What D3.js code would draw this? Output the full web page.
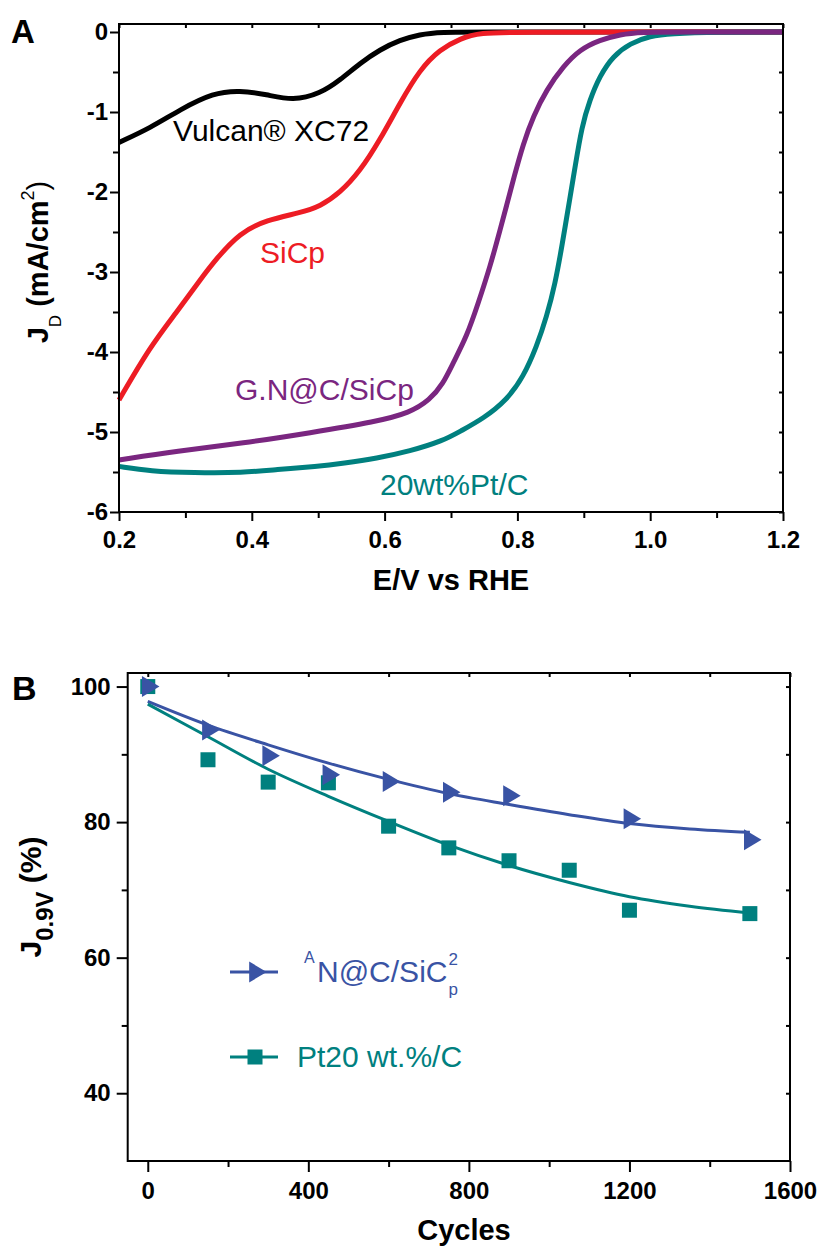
<!DOCTYPE html>
<html><head><meta charset="utf-8">
<script src="https://cdn.jsdelivr.net/npm/d3@7"></script>
<style>
body{margin:0;background:#fff;}
svg{display:block;font-family:"Liberation Sans",Arial,Helvetica,sans-serif;}
</style></head><body>
<svg id="c" width="820" height="1246"></svg>
<script>
// ---------- Panel A data (E / V vs RHE, J_D / mA cm^-2) ----------
const vulcanE = [0.2, 0.247, 0.292, 0.342, 0.382, 0.422, 0.462, 0.503, 0.533, 0.563, 0.593, 0.623, 0.653, 0.683, 0.75, 0.9, 1.2];
const vulcanJ = [-1.38, -1.2, -0.97, -0.76, -0.73, -0.78, -0.86, -0.77, -0.60, -0.39, -0.22, -0.10, -0.03, 0, 0, 0, 0];

const sicpE = [0.2, 0.247, 0.287, 0.322, 0.347, 0.382, 0.422, 0.473, 0.503, 0.533, 0.563, 0.593, 0.623, 0.653, 0.683, 0.714, 0.744, 0.8, 1.0, 1.2];
const sicpJ = [-4.6, -3.93, -3.5, -3.1, -2.83, -2.51, -2.35, -2.26, -2.18, -2.01, -1.74, -1.35, -0.89, -0.47, -0.22, -0.08, -0.01, 0, 0, 0];

const gncE = [0.2, 0.287, 0.387, 0.488, 0.588, 0.638, 0.668, 0.688, 0.703, 0.724, 0.741, 0.759, 0.774, 0.786, 0.794, 0.809, 0.824, 0.844, 0.869, 0.894, 0.924, 0.955, 0.985, 1.05, 1.2];
const gncJ = [-5.35, -5.24, -5.14, -5.01, -4.87, -4.76, -4.60, -4.40, -4.14, -3.80, -3.39, -2.93, -2.47, -2.10, -1.84, -1.39, -1.05, -0.72, -0.43, -0.22, -0.10, -0.03, 0, 0, 0];

const ptE = [0.2, 0.247, 0.312, 0.387, 0.437, 0.498, 0.538, 0.588, 0.638, 0.688, 0.714, 0.749, 0.784, 0.809, 0.829, 0.844, 0.857, 0.867, 0.879, 0.887, 0.897, 0.909, 0.924, 0.944, 0.970, 1.0, 1.03, 1.1, 1.2];
const ptJ = [-5.43, -5.49, -5.51, -5.51, -5.47, -5.43, -5.39, -5.33, -5.24, -5.11, -4.99, -4.83, -4.60, -4.31, -3.93, -3.56, -3.14, -2.68, -2.08, -1.68, -1.18, -0.85, -0.55, -0.30, -0.14, -0.05, -0.02, 0, 0];

const tickA_x = [0.2, 0.4, 0.6, 0.8, 1.0, 1.2];
const tickA_y = [-6, -5, -4, -3, -2, -1, 0];

// ---------- Panel B data ----------
const cycles = [0, 150, 300, 450, 600, 750, 900, 1050, 1200, 1500];
const gncCycles = [0, 150, 300, 450, 600, 750, 900, 1200, 1500];
const gncRet = [100, 93.6, 89.8, 87.0, 86.0, 84.4, 83.9, 80.5, 77.4];
const ptRet = [100, 89.2, 85.9, 85.8, 79.4, 76.2, 74.3, 72.9, 67.0, 66.5];
const fitCycles = [0, 150, 300, 450, 600, 750, 900, 1050, 1200, 1350, 1500];
const gncFit = [97.8, 94.3, 91.4, 88.7, 86.3, 84.2, 82.6, 81.1, 79.8, 79.0, 78.5];
const ptFit = [97.4, 92.6, 87.8, 83.8, 80.1, 76.6, 73.6, 71.1, 69.0, 67.6, 66.6];
const tickB_x = [0, 400, 800, 1200, 1600];
const tickB_y = [40, 60, 80, 100];

const cBlack = "#000000", cRed = "#ed1c24", cPurple = "#7a2680", cTeal = "#00807f", cBlue = "#3953a4";

const svg = d3.select("#c");

function styleAxis(g, fs) {
  g.select(".domain").remove();
  g.selectAll("line").attr("stroke", "#000").attr("stroke-width", 2);
  g.selectAll("text").attr("font-size", fs).attr("font-weight", "bold").attr("fill", "#000")
    .attr("font-family", '"Liberation Sans",Arial,sans-serif');
}
function range(a, b, s) { const r = []; for (let v = a; v <= b + 1e-9; v += s) r.push(+v.toFixed(4)); return r; }

// ================= Panel A =================
const xA = d3.scaleLinear().domain([0.2, 1.2]).range([119, 783]);
const yA = d3.scaleLinear().domain([-6, 0.1]).range([512, 24]);
const gA = svg.append("g");

gA.append("g").attr("transform", "translate(0,512)")
  .call(d3.axisBottom(xA).tickValues(range(0.3, 1.1, 0.2)).tickSize(6).tickFormat(""))
  .call(g => styleAxis(g, 24));
gA.append("g").attr("transform", "translate(119,0)")
  .call(d3.axisLeft(yA).tickValues(range(-5.5, -0.5, 1)).tickSize(6).tickFormat(""))
  .call(g => styleAxis(g, 24));
gA.append("g").attr("transform", "translate(0,512)")
  .call(d3.axisBottom(xA).tickValues(tickA_x).tickSize(9).tickPadding(10).tickFormat(d3.format(".1f")))
  .call(g => styleAxis(g, 24));
gA.append("g").attr("transform", "translate(119,0)")
  .call(d3.axisLeft(yA).tickValues(tickA_y).tickSize(9).tickPadding(2).tickFormat(d => String(d)))
  .call(g => styleAxis(g, 24));
gA.append("g").attr("transform", "translate(0,24)")
  .call(d3.axisTop(xA).tickValues(range(0.2, 1.2, 0.1)).tickSize(-4).tickFormat(""))
  .call(g => styleAxis(g, 24));
gA.append("g").attr("transform", "translate(783,0)")
  .call(d3.axisRight(yA).tickValues(range(-6, 0, 0.5)).tickSize(-4).tickFormat(""))
  .call(g => styleAxis(g, 24));

const lineA = d3.line().x(d => xA(d[0])).y(d => yA(d[1])).curve(d3.curveBasis);
const seriesA = [
  [vulcanE, vulcanJ, cBlack],
  [sicpE, sicpJ, cRed],
  [ptE, ptJ, cTeal],
  [gncE, gncJ, cPurple]
];
seriesA.forEach(([e, j, c]) => {
  gA.append("path").datum(e.map((v, i) => [v, j[i]]))
    .attr("d", lineA).attr("fill", "none").attr("stroke", c).attr("stroke-width", 5)
    .attr("stroke-linejoin", "round").attr("stroke-linecap", "butt");
});
gA.append("rect").attr("x", 119).attr("y", 24).attr("width", 664).attr("height", 488)
  .attr("fill", "none").attr("stroke", "#000").attr("stroke-width", 2);

gA.append("text").attr("x", 173).attr("y", 141).attr("font-size", 30).attr("fill", cBlack).text("Vulcan\u00AE XC72");
gA.append("text").attr("x", 260).attr("y", 263).attr("font-size", 30).attr("fill", cRed).text("SiCp");
gA.append("text").attr("x", 235).attr("y", 400).attr("font-size", 30).attr("fill", cPurple).text("G.N@C/SiCp");
gA.append("text").attr("x", 380).attr("y", 495).attr("font-size", 30).attr("fill", cTeal).text("20wt%Pt/C");

svg.append("text").attr("x", 11).attr("y", 43).attr("font-size", 33).attr("font-weight", "bold").text("A");
svg.append("text").attr("x", 451).attr("y", 590).attr("text-anchor", "middle")
  .attr("font-size", 29).attr("font-weight", "bold").text("E/V vs RHE");
const yTA = svg.append("text").attr("transform", "translate(48,262) rotate(-90)")
  .attr("text-anchor", "middle").attr("font-size", 29).attr("font-weight", "bold");
yTA.append("tspan").text("J");
yTA.append("tspan").attr("font-size", 17).attr("dy", 13).attr("font-weight", "normal").text("D");
yTA.append("tspan").attr("dy", -13).text(" (mA/cm");
yTA.append("tspan").attr("font-size", 18).attr("dy", -14).attr("font-weight", "normal").text("2");
yTA.append("tspan").attr("dy", 14).attr("font-weight", "normal").text(")");

// ================= Panel B =================
const xB = d3.scaleLinear().domain([-50, 1600]).range([127.7, 790]);
const yB = d3.scaleLinear().domain([30, 102]).range([1161, 673]);
const gB = svg.append("g");

gB.append("g").attr("transform", "translate(0,1161)")
  .call(d3.axisBottom(xB).tickValues(range(200, 1400, 400)).tickSize(6).tickFormat(""))
  .call(g => styleAxis(g, 24));
gB.append("g").attr("transform", "translate(127.7,0)")
  .call(d3.axisLeft(yB).tickValues([50, 70, 90]).tickSize(6).tickFormat(""))
  .call(g => styleAxis(g, 24));
gB.append("g").attr("transform", "translate(0,1161)")
  .call(d3.axisBottom(xB).tickValues(tickB_x).tickSize(11).tickPadding(10).tickFormat(d => String(d)))
  .call(g => styleAxis(g, 24));
gB.append("g").attr("transform", "translate(127.7,0)")
  .call(d3.axisLeft(yB).tickValues(tickB_y).tickSize(11).tickPadding(6).tickFormat(d => String(d)))
  .call(g => styleAxis(g, 24));
gB.append("g").attr("transform", "translate(0,673)")
  .call(d3.axisTop(xB).tickValues(range(0, 1600, 200)).tickSize(-4).tickFormat(""))
  .call(g => styleAxis(g, 24));
gB.append("g").attr("transform", "translate(790,0)")
  .call(d3.axisRight(yB).tickValues(range(40, 100, 10)).tickSize(-4).tickFormat(""))
  .call(g => styleAxis(g, 24));

const lineB = d3.line().x(d => xB(d[0])).y(d => yB(d[1])).curve(d3.curveCatmullRom.alpha(0.5));
gB.append("path").datum(fitCycles.map((c, i) => [c, gncFit[i]])).attr("d", lineB)
  .attr("fill", "none").attr("stroke", cBlue).attr("stroke-width", 3);
gB.append("path").datum(fitCycles.map((c, i) => [c, ptFit[i]])).attr("d", lineB)
  .attr("fill", "none").attr("stroke", cTeal).attr("stroke-width", 3);

const triPath = (cx, cy) => { const w = 17.5, h = 21; return `M${cx - w / 3},${cy - h / 2}L${cx + 2 * w / 3},${cy}L${cx - w / 3},${cy + h / 2}Z`; };
const sq = 15;
gB.selectAll(".sq").data(cycles.map((c, i) => [c, ptRet[i]])).enter().append("rect")
  .attr("x", d => xB(d[0]) - sq / 2).attr("y", d => yB(d[1]) - sq / 2)
  .attr("width", sq).attr("height", sq).attr("fill", cTeal);
gB.selectAll(".tri").data(gncCycles.map((c, i) => [c, gncRet[i]])).enter().append("path")
  .attr("d", d => triPath(xB(d[0]), yB(d[1]))).attr("fill", cBlue);

gB.append("rect").attr("x", 127.7).attr("y", 673).attr("width", 662.3).attr("height", 488)
  .attr("fill", "none").attr("stroke", "#000").attr("stroke-width", 2);

// legend
gB.append("line").attr("x1", 230).attr("x2", 278).attr("y1", 972).attr("y2", 972).attr("stroke", cBlue).attr("stroke-width", 3);
gB.append("path").attr("d", triPath(255, 972)).attr("fill", cBlue);
gB.append("line").attr("x1", 230).attr("x2", 278).attr("y1", 1057).attr("y2", 1057).attr("stroke", cTeal).attr("stroke-width", 3);
gB.append("rect").attr("x", 255 - sq / 2).attr("y", 1057 - sq / 2).attr("width", sq).attr("height", sq).attr("fill", cTeal);

gB.append("text").attr("x", 304).attr("y", 963).attr("font-size", 16).attr("fill", cBlue).text("A");
const leg1 = gB.append("text").attr("x", 317).attr("y", 982).attr("font-size", 30).attr("fill", cBlue).text("N@C/SiC");
const l1end = 317 + leg1.node().getComputedTextLength() + 1;
gB.append("text").attr("x", l1end).attr("y", 965).attr("font-size", 17).attr("fill", cBlue).text("2");
gB.append("text").attr("x", l1end).attr("y", 995).attr("font-size", 17).attr("fill", cBlue).text("p");
gB.append("text").attr("x", 297).attr("y", 1067).attr("font-size", 30).attr("fill", cTeal).text("Pt20 wt.%/C");

svg.append("text").attr("x", 12).attr("y", 700).attr("font-size", 34).attr("font-weight", "bold").text("B");
svg.append("text").attr("x", 464).attr("y", 1240).attr("text-anchor", "middle")
  .attr("font-size", 29).attr("font-weight", "bold").text("Cycles");
const yTB = svg.append("text").attr("transform", "translate(41,897) rotate(-90)")
  .attr("text-anchor", "middle").attr("font-size", 30).attr("font-weight", "bold");
yTB.append("tspan").text("J");
yTB.append("tspan").attr("font-size", 24).attr("dy", 12).text("0.9V");
yTB.append("tspan").attr("dy", -12).text(" (%)");
</script>
</body></html>
